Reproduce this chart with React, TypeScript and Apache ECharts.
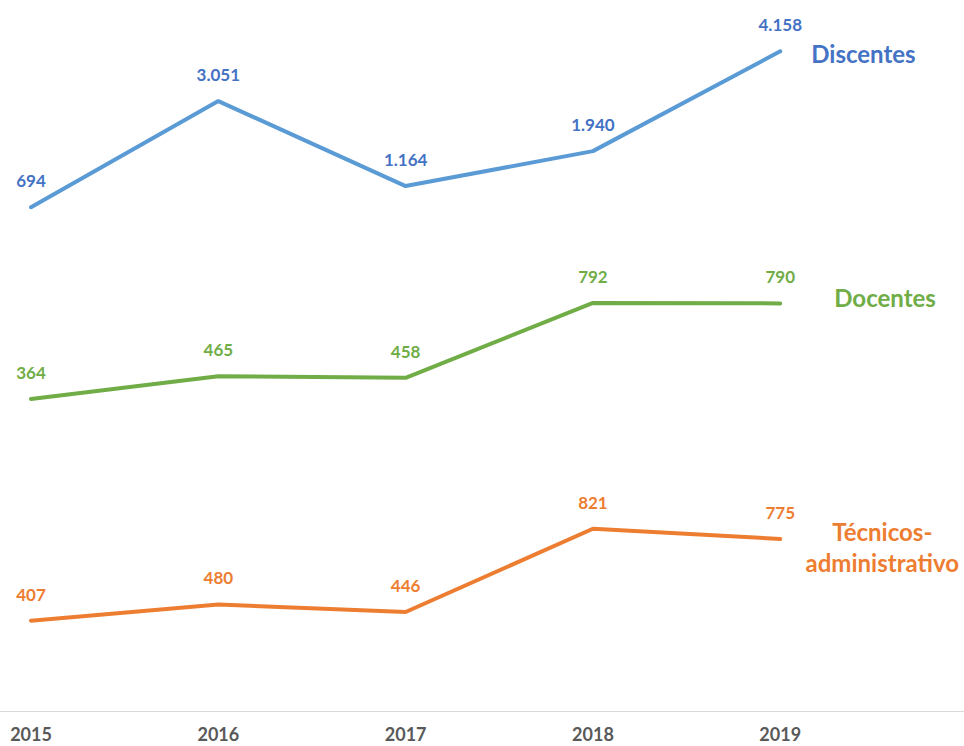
import { useEffect, useRef } from "react";
import * as echarts from "echarts";

const years = ["2015", "2016", "2017", "2018", "2019"];
const discentes = [694, 3051, 1164, 1940, 4158];
const docentes = [364, 465, 458, 792, 790];
const tecnicos = [407, 480, 446, 821, 775];
const names = ["Discentes", "Docentes", "Técnicos-\nadministrativo"];

const fmt = (v: number) => String(v).replace(/\B(?=(\d{3})+(?!\d))/g, ".");
const pairs = (arr: number[]) => arr.map((v, i) => [i, v]);

const FONT = "Lato";

export default function App() {
  const ref = useRef<HTMLDivElement>(null);
  useEffect(() => {
    if (!ref.current) return;
    const chart = echarts.init(ref.current, undefined, { renderer: "svg" });
    const xBase = (show: boolean, gridIndex: number) => ({
      type: "value" as const,
      gridIndex,
      min: -0.1655,
      max: 4.981,
      axisLine: { show, lineStyle: { color: "#d9d9d9", width: 1 } },
      axisTick: { show: false },
      splitLine: { show: false },
      axisLabel: {
        show,
        customValues: [0, 1, 2, 3, 4],
        formatter: (v: number) => years[Math.round(v)] ?? "",
        color: "#595959",
        fontFamily: FONT,
        fontWeight: "bold",
        fontSize: 18,
        margin: 14,
      },
    });
    const yBase = (gridIndex: number, max: number) => ({
      type: "value" as const,
      gridIndex,
      min: 0,
      max,
      show: false,
      splitLine: { show: false },
    });
    const mk = (
      idx: number,
      data: number[],
      lineColor: string,
      labelColor: string,
      endOffset: number[],
      align: string
    ) => ({
      type: "line" as const,
      name: names[idx],
      xAxisIndex: idx,
      yAxisIndex: idx,
      data: pairs(data),
      symbol: "circle",
      symbolSize: 2,
      showSymbol: true,
      lineStyle: { color: lineColor, width: 4, cap: "round" },
      itemStyle: { color: lineColor, borderWidth: 0 },
      label: {
        show: true,
        position: "top",
        distance: 17,
        formatter: (p: any) => fmt(p.value[1]),
        color: labelColor,
        fontFamily: FONT,
        fontWeight: "bold",
        fontSize: 17,
      },
      endLabel: {
        show: true,
        formatter: () => names[idx],
        color: labelColor,
        fontFamily: FONT,
        fontWeight: "bold",
        fontSize: 24,
        lineHeight: 31,
        align,
        offset: endOffset,
      },
    });
    chart.setOption({
      animation: false,
      backgroundColor: "#ffffff",
      grid: [
        { left: 0, right: 0, top: 0, height: 238.5 },
        { left: 0, right: 0, top: 256.3, height: 224.3 },
        { left: 0, right: 0, top: 489, height: 222 },
      ],
      xAxis: [xBase(false, 0), xBase(false, 1), xBase(true, 2)],
      yAxis: [yBase(0, 5296), yBase(1, 1000), yBase(2, 1000)],
      series: [
        mk(0, discentes, "#5B9BD5", "#4472C4", [23, 2], "left"),
        mk(1, docentes, "#70AD47", "#70AD47", [46, -6], "left"),
        mk(2, tecnicos, "#ED7D31", "#ED7D31", [94, 8], "center"),
      ],
    });
    return () => chart.dispose();
  }, []);
  return (
    <div
      ref={ref}
      style={{ position: "fixed", left: 0, top: 0, width: 964, height: 746 }}
    />
  );
}
